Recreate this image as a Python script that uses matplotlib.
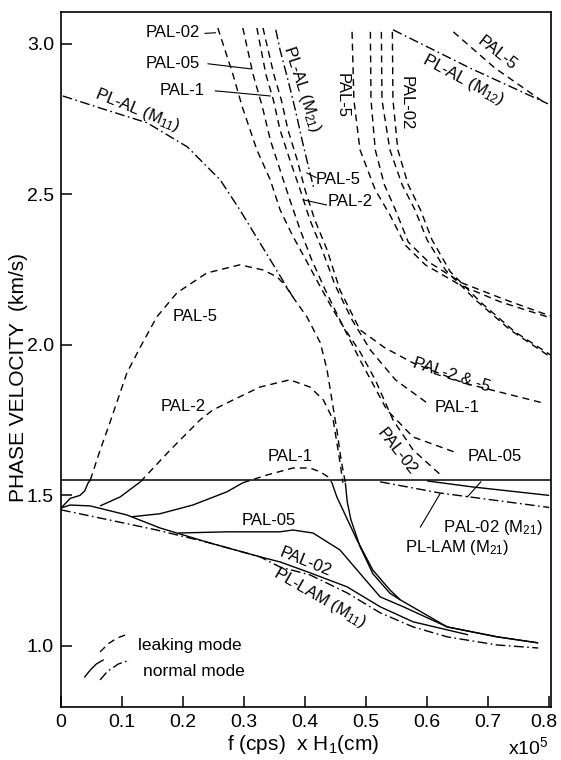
import matplotlib
matplotlib.use("Agg")
import matplotlib.pyplot as plt
from matplotlib.transforms import ScaledTranslation

plt.rcParams['font.family'] = ['Liberation Sans', 'DejaVu Sans']
plt.rcParams['mathtext.fontset'] = 'custom'
plt.rcParams['mathtext.rm'] = 'Liberation Sans'
plt.rcParams['mathtext.it'] = 'Liberation Sans:italic'

# ---- axis ticks ----
x_ticks = [0, 0.1, 0.2, 0.3, 0.4, 0.5, 0.6, 0.7, 0.8]
x_tick_labels = ["0", "0.1", "0.2", "0.3", "0.4", "0.5", "0.6", "0.7", "0.8"]
y_ticks = [1.0, 1.5, 2.0, 2.5, 3.0]
y_tick_labels = ["1.0", "1.5", "2.0", "2.5", "3.0"]

# shear velocity of the half-space (boundary between leaking and normal modes)
vs_half = 1.55

# ---- fundamental (M11) branch: normal below vs_half, leaking above ----
pal5_n_x = [0.0, 0.015, 0.031, 0.039, 0.044, 0.048]
pal5_n_y = [1.458, 1.49, 1.50, 1.515, 1.54, 1.551]
pal5_l_x = [0.048, 0.064, 0.080, 0.108, 0.130, 0.157, 0.190, 0.239, 0.293, 0.331, 0.354,
            0.367, 0.380, 0.403, 0.425, 0.436, 0.444, 0.452, 0.459, 0.466]
pal5_l_y = [1.551, 1.65, 1.741, 1.907, 1.993, 2.093, 2.173, 2.239, 2.266, 2.249, 2.226,
            2.199, 2.159, 2.093, 2.007, 1.917, 1.817, 1.718, 1.618, 1.542]

pal2_n_x = [0.064, 0.097, 0.130]
pal2_n_y = [1.465, 1.495, 1.545]
pal2_l_x = [0.130, 0.179, 0.228, 0.249, 0.282, 0.326, 0.375, 0.408, 0.430, 0.446, 0.454, 0.459, 0.462]
pal2_l_y = [1.545, 1.651, 1.751, 1.784, 1.817, 1.860, 1.884, 1.860, 1.817, 1.751, 1.651, 1.585, 1.542]

pal1_n_x = [0.116, 0.162, 0.216, 0.272, 0.298]
pal1_n_y = [1.429, 1.439, 1.468, 1.512, 1.542]
pal1_l_x = [0.298, 0.338, 0.380, 0.408, 0.425, 0.438, 0.444]
pal1_l_y = [1.542, 1.568, 1.591, 1.591, 1.578, 1.561, 1.542]

# normal-mode tails after the bumps drop below vs_half
tailA_x = [0.444, 0.452, 0.462, 0.485, 0.511, 0.539, 0.556, 0.633, 0.715, 0.782]
tailA_y = [1.542, 1.495, 1.452, 1.352, 1.252, 1.186, 1.153, 1.063, 1.030, 1.010]
tailB_x = [0.466, 0.469, 0.475, 0.490, 0.511, 0.539, 0.556]
tailB_y = [1.542, 1.480, 1.420, 1.330, 1.240, 1.175, 1.153]

pal05_x = [0.192, 0.272, 0.359, 0.380, 0.413, 0.457, 0.495, 0.523, 0.561, 0.633, 0.715, 0.782]
pal05_y = [1.375, 1.379, 1.379, 1.385, 1.375, 1.319, 1.229, 1.163, 1.130, 1.063, 1.030, 1.010]

pal02_x = [0.0, 0.015, 0.048, 0.108, 0.162, 0.244, 0.326, 0.359, 0.408, 0.469, 0.523, 0.577, 0.667]
pal02_y = [1.458, 1.468, 1.465, 1.435, 1.392, 1.342, 1.296, 1.279, 1.243, 1.196, 1.130, 1.080, 1.037]

pllam11_x = [0.0, 0.080, 0.157, 0.244, 0.326, 0.359, 0.408, 0.469, 0.523, 0.577, 0.633, 0.715, 0.782]
pllam11_y = [1.452, 1.418, 1.385, 1.342, 1.296, 1.262, 1.236, 1.176, 1.110, 1.063, 1.030, 1.003, 0.993]

plal11_x = [0.003, 0.064, 0.141, 0.207, 0.261, 0.293, 0.323, 0.351, 0.380]
plal11_y = [2.827, 2.787, 2.738, 2.658, 2.548, 2.449, 2.349, 2.256, 2.159]

# ---- second (M21) leaking branch ----
g02_x = [0.257, 0.282, 0.297, 0.321, 0.343, 0.359, 0.379, 0.403, 0.425, 0.446, 0.466, 0.490,
         0.515, 0.544, 0.577, 0.626]
g02_y = [3.053, 2.897, 2.791, 2.648, 2.548, 2.449, 2.365, 2.276, 2.193, 2.116, 2.050, 1.977,
         1.884, 1.751, 1.651, 1.561]
g05_x = [0.298, 0.315, 0.330, 0.343, 0.359, 0.375, 0.392, 0.411, 0.433, 0.457, 0.490, 0.534, 0.577, 0.649]
g05_y = [3.053, 2.897, 2.791, 2.681, 2.581, 2.482, 2.382, 2.282, 2.183, 2.083, 1.950, 1.784, 1.694, 1.641]
g1_x = [0.321, 0.336, 0.348, 0.359, 0.375, 0.392, 0.408, 0.428, 0.449, 0.477, 0.507, 0.548, 0.600]
g1_y = [3.053, 2.897, 2.814, 2.714, 2.615, 2.515, 2.415, 2.316, 2.199, 2.083, 1.983, 1.884, 1.807]
g25_x = [0.331, 0.349, 0.361, 0.372, 0.387, 0.400, 0.416, 0.436, 0.457, 0.490, 0.531, 0.577, 0.659, 0.790]
g25_y = [3.053, 2.897, 2.814, 2.714, 2.615, 2.515, 2.415, 2.316, 2.183, 2.050, 1.990, 1.940, 1.874, 1.807]
plal21_x = [0.352, 0.359, 0.372, 0.384, 0.395, 0.408, 0.415]
plal21_y = [3.047, 2.980, 2.880, 2.781, 2.681, 2.571, 2.515]

pal02_m21_x = [0.600, 0.675, 0.800]
pal02_m21_y = [1.548, 1.528, 1.500]
pllam21_x = [0.523, 0.621, 0.800]
pllam21_y = [1.545, 1.508, 1.460]

# ---- third group (right) ----
r1_x = [0.477, 0.480, 0.490, 0.515, 0.539, 0.564, 0.597, 0.654, 0.720, 0.802]
r1_y = [3.040, 2.814, 2.648, 2.515, 2.432, 2.332, 2.266, 2.199, 2.143, 2.090]
r2_x = [0.507, 0.508, 0.515, 0.530, 0.548, 0.569, 0.602, 0.657, 0.728, 0.802]
r2_y = [3.040, 2.814, 2.648, 2.532, 2.449, 2.342, 2.276, 2.206, 2.150, 2.096]
r3_x = [0.525, 0.526, 0.539, 0.559, 0.580, 0.600, 0.630, 0.679, 0.736, 0.802]
r3_y = [3.040, 2.814, 2.648, 2.532, 2.449, 2.349, 2.249, 2.150, 2.050, 1.960]
r4_x = [0.543, 0.544, 0.552, 0.569, 0.589, 0.608, 0.638, 0.687, 0.744, 0.802]
r4_y = [3.040, 2.814, 2.648, 2.532, 2.449, 2.349, 2.243, 2.143, 2.043, 1.967]

plal12_x = [0.544, 0.670, 0.798]
plal12_y = [3.047, 2.920, 2.801]
pal5_m12_x = [0.643, 0.711, 0.793]
pal5_m12_y = [3.040, 2.920, 2.804]

# ---- drawing ----
fig = plt.figure(figsize=(5.61, 7.60), dpi=100)
ax = fig.add_axes([61 / 561, 53 / 760, 490 / 561, 695 / 760])
ax.set_xlim(0, 0.803)
ax.set_ylim(0.797, 3.106)

K = 'black'
LW = 1.0
DASH = (0, (5, 3.5))
DDOT = (0, (7, 2.5, 1.2, 2.5))

def solid(x, y):
    ax.plot(x, y, color=K, lw=LW, solid_capstyle='butt')

def dashed(x, y):
    ax.plot(x, y, color=K, lw=LW, linestyle=DASH)

def dashdot(x, y):
    ax.plot(x, y, color=K, lw=LW, linestyle=DDOT)

ax.axhline(vs_half, color=K, lw=1.1)

for xs, ys in [(pal5_n_x, pal5_n_y), (pal2_n_x, pal2_n_y), (pal1_n_x, pal1_n_y),
               (tailA_x, tailA_y), (tailB_x, tailB_y), (pal05_x, pal05_y),
               (pal02_x, pal02_y), (pal02_m21_x, pal02_m21_y)]:
    solid(xs, ys)

for xs, ys in [(pal5_l_x, pal5_l_y), (pal2_l_x, pal2_l_y), (pal1_l_x, pal1_l_y),
               (g02_x, g02_y), (g05_x, g05_y), (g1_x, g1_y), (g25_x, g25_y),
               (r1_x, r1_y), (r2_x, r2_y), (r3_x, r3_y), (r4_x, r4_y),
               (pal5_m12_x, pal5_m12_y)]:
    dashed(xs, ys)

for xs, ys in [(pllam11_x, pllam11_y), (plal11_x, plal11_y), (plal21_x, plal21_y),
               (pllam21_x, pllam21_y), (plal12_x, plal12_y)]:
    dashdot(xs, ys)

# ---- curve labels ----
FS = 12
def lab(x, y, s, rot=0, ha='center', va='center', fs=FS):
    ax.text(x, y, s, fontsize=fs, rotation=rot, ha=ha, va=va, rotation_mode='anchor')

def leader(x0, y0, x1, y1):
    ax.plot([x0, x1], [y0, y1], color=K, lw=0.8)

lab(0.228, 3.037, "PAL-02", ha='right')
leader(0.236, 3.035, 0.253, 3.037)
lab(0.228, 2.934, "PAL-05", ha='right')
leader(0.241, 2.934, 0.311, 2.917)
lab(0.236, 2.844, "PAL-1", ha='right')
leader(0.253, 2.844, 0.343, 2.827)
lab(0.125, 2.78, "PL-AL (M$_{11}$)", rot=-22)
lab(0.395, 2.85, "PL-AL (M$_{21}$)", rot=-72)
lab(0.418, 2.551, "PAL-5", ha='left')
leader(0.403, 2.571, 0.418, 2.556)
lab(0.437, 2.475, "PAL-2", ha='left')
leader(0.397, 2.482, 0.435, 2.465)
lab(0.461, 2.827, "PAL-5", rot=-90)
lab(0.565, 2.804, "PAL-02", rot=-90)
lab(0.715, 2.97, "PAL-5", rot=-38)
lab(0.660, 2.88, "PL-AL (M$_{12}$)", rot=-28)
lab(0.220, 2.093, "PAL-5")
lab(0.200, 1.794, "PAL-2")
lab(0.375, 1.628, "PAL-1")
lab(0.340, 1.415, "PAL-05")
lab(0.400, 1.28, "PAL-02", rot=-22)
lab(0.425, 1.16, "PL-LAM (M$_{11}$)", rot=-30)
lab(0.640, 1.90, "PAL-2 & -5", rot=-18)
lab(0.649, 1.791, "PAL-1")
lab(0.711, 1.628, "PAL-05")
lab(0.551, 1.645, "PAL-02", rot=-52)
lab(0.707, 1.395, "PAL-02 (M$_{21}$)")
lab(0.649, 1.326, "PL-LAM (M$_{21}$)")
leader(0.666, 1.495, 0.688, 1.545)
leader(0.589, 1.395, 0.621, 1.505)

# ---- legend sketch ----
ax.plot([0.064, 0.078, 0.092, 0.105], [0.980, 1.008, 1.026, 1.036], color=K, lw=LW, linestyle=DASH)
ax.plot([0.039, 0.048, 0.058, 0.069], [0.897, 0.920, 0.940, 0.953], color=K, lw=LW)
ax.plot([0.064, 0.076, 0.094, 0.113], [0.887, 0.915, 0.940, 0.953], color=K, lw=LW, linestyle=DDOT)
ax.text(0.126, 1.0, "leaking mode", fontsize=12.5, va='center', ha='left')
ax.text(0.134, 0.914, "normal mode", fontsize=12.5, va='center', ha='left')

# ---- axes styling ----
ax.set_xticks(x_ticks)
ax.set_xticklabels(x_tick_labels)
ax.set_yticks(y_ticks)
ax.set_yticklabels(y_tick_labels)
ax.tick_params(direction='in', length=8, width=1.1, labelsize=14, pad=5)
for s in ax.spines.values():
    s.set_linewidth(1.2)
# keep the last x tick label inside the figure
last = ax.get_xticklabels()[-1]
last.set_transform(last.get_transform() + ScaledTranslation(-5 / 100, 0, fig.dpi_scale_trans))

fig.text(303 / 561, 1 - 745 / 760, "f (cps)  x H$_1$(cm)", fontsize=15, ha='center', va='center')
fig.text(528 / 561, 1 - 747 / 760, "x10$^5$", fontsize=14, ha='center', va='center')
fig.text(19 / 561, 1 - 378 / 760, "PHASE VELOCITY  (km/s)", fontsize=15, rotation=90,
         ha='center', va='center')

fig.savefig("out.png", dpi=100)
